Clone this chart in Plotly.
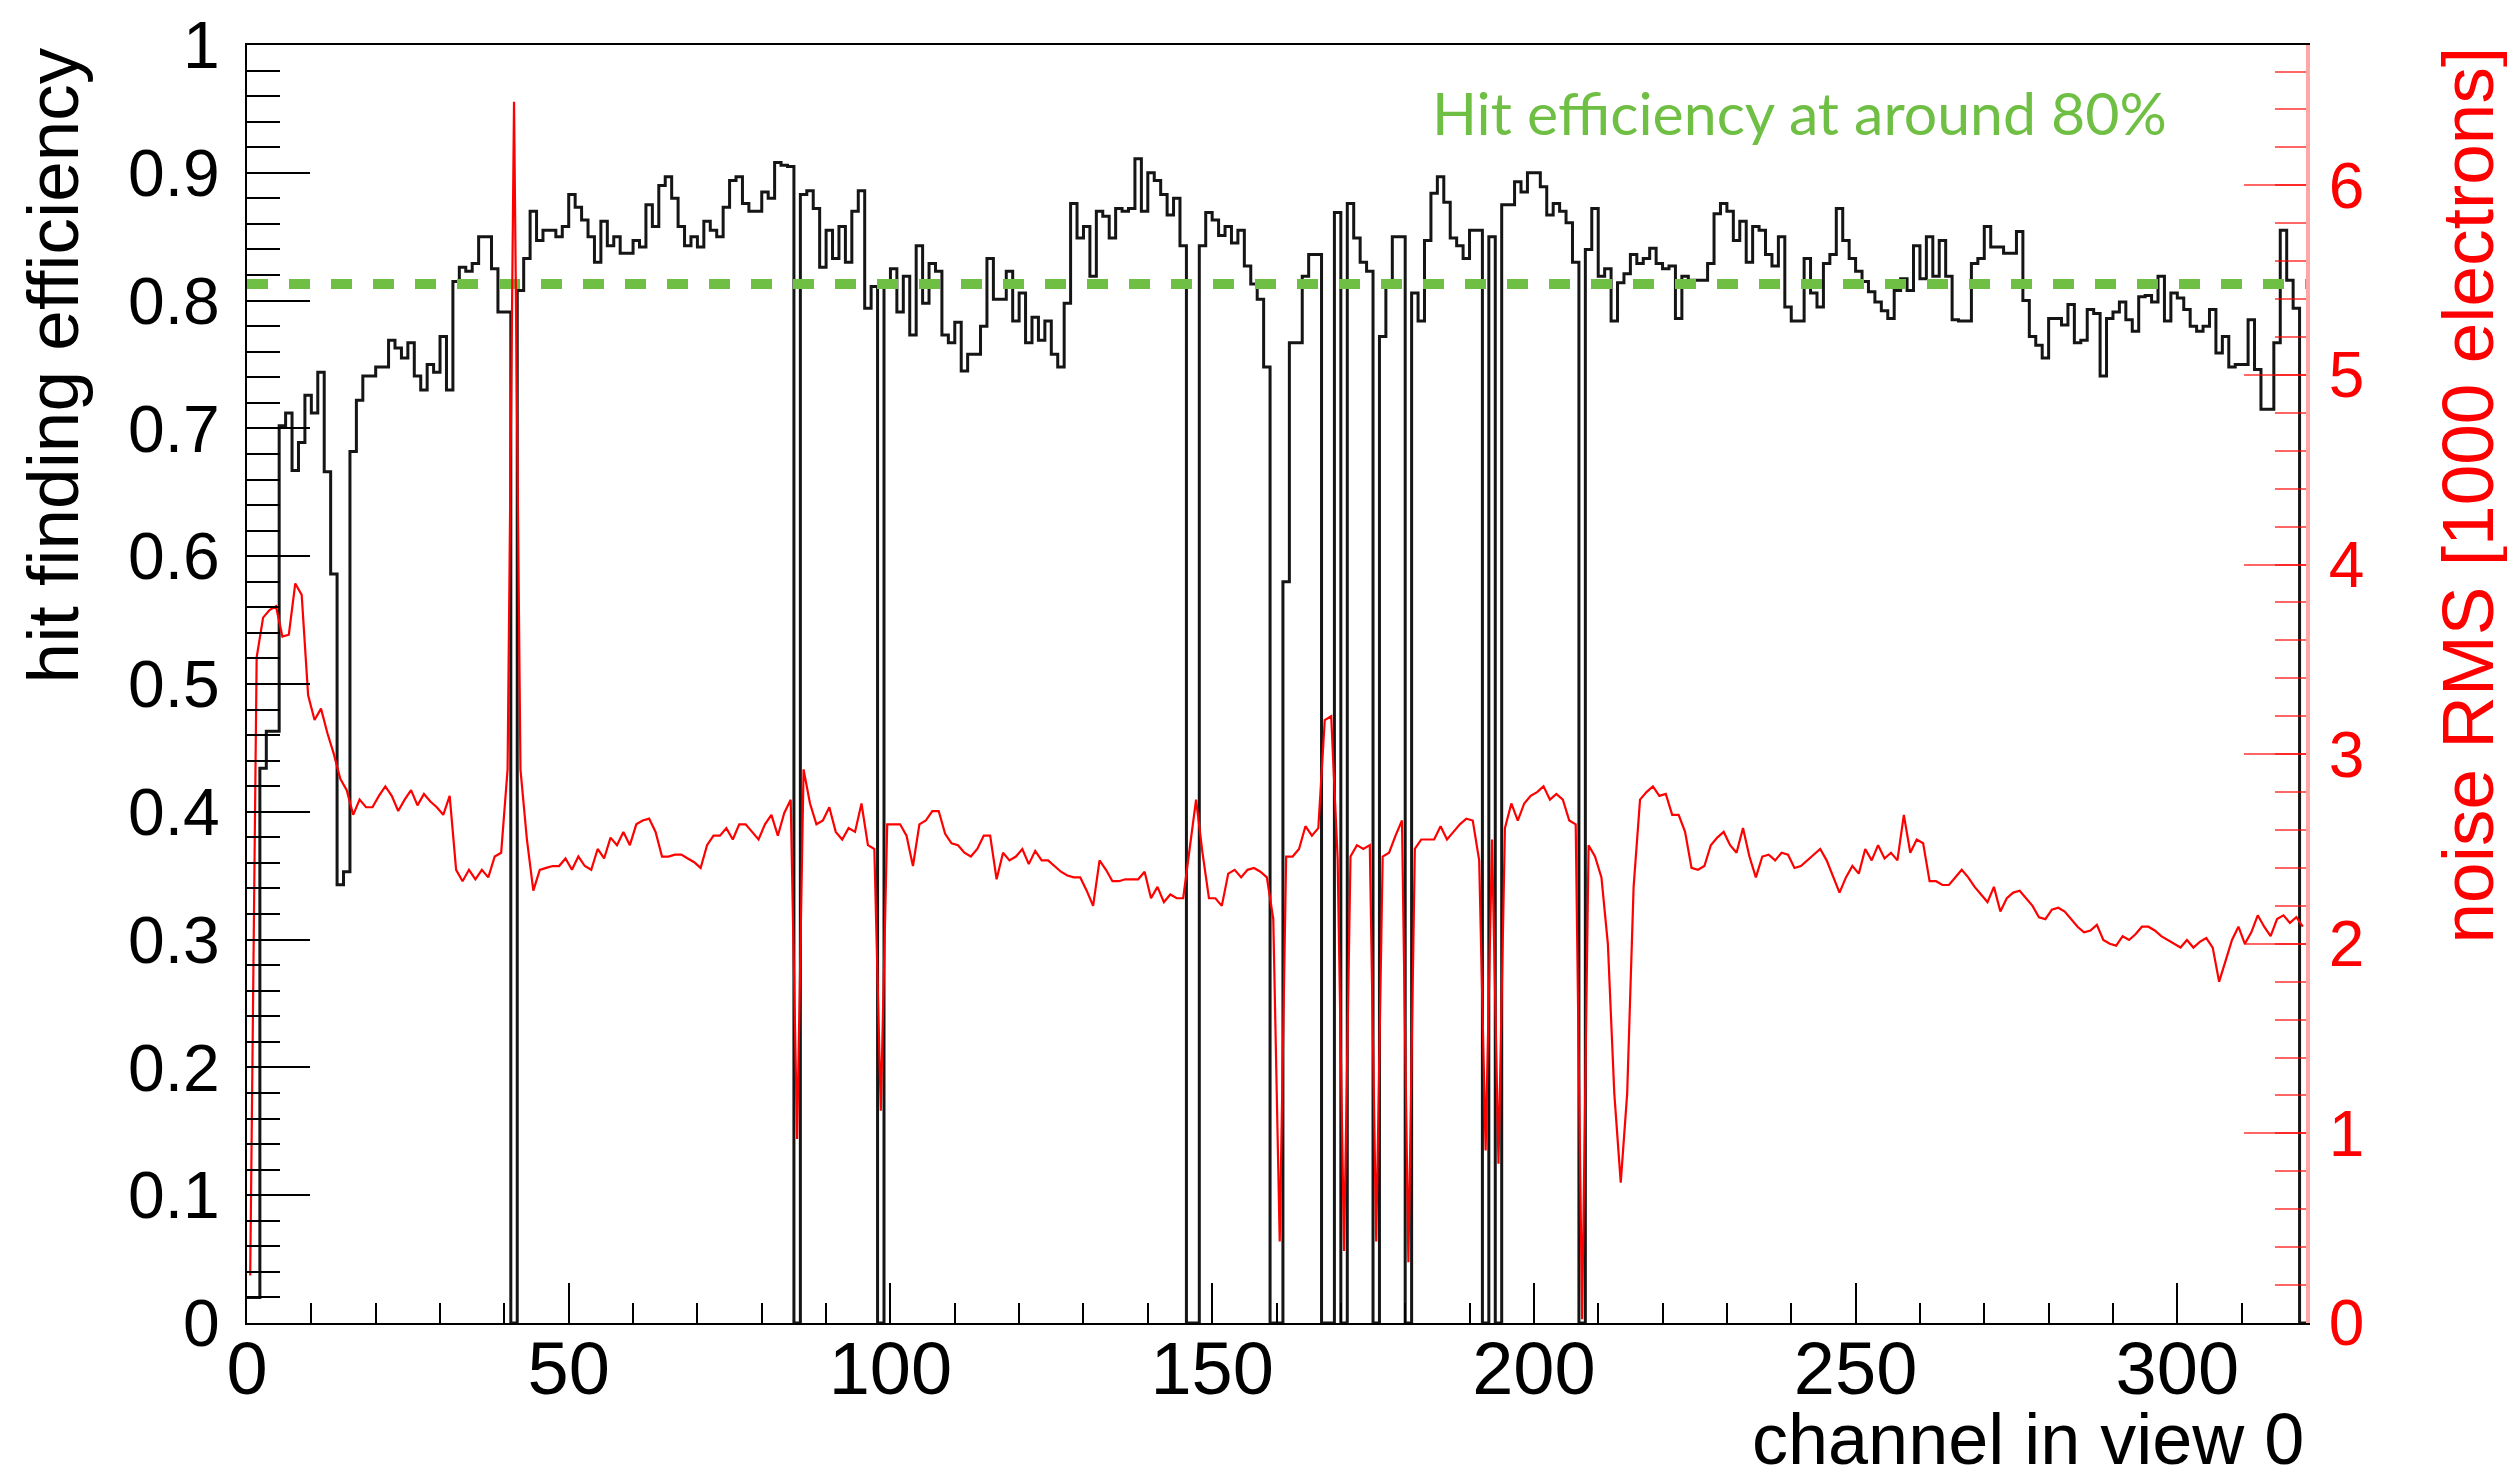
import plotly.graph_objects as go

# ---------------- data ----------------
channels = list(range(320))

efficiency = [
    0.02, 0.02, 0.434, 0.463, 0.463, 0.702, 0.712, 0.667, 0.689, 0.726,
    0.712, 0.744, 0.666, 0.586, 0.343, 0.353, 0.682, 0.722, 0.741, 0.741,
    0.748, 0.748, 0.769, 0.763, 0.755, 0.767, 0.741, 0.730, 0.750, 0.744,
    0.772, 0.730, 0.815, 0.826, 0.823, 0.829, 0.850, 0.850, 0.825, 0.791,
    0.791, 0.0, 0.808, 0.833, 0.870, 0.847, 0.855, 0.855, 0.850, 0.858,
    0.883, 0.873, 0.863, 0.850, 0.830, 0.862, 0.843, 0.850, 0.837, 0.837,
    0.847, 0.842, 0.875, 0.858, 0.890, 0.897, 0.880, 0.858, 0.843, 0.850,
    0.842, 0.862, 0.855, 0.850, 0.873, 0.894, 0.897, 0.876, 0.870, 0.870,
    0.885, 0.880, 0.908, 0.906, 0.905, 0.0, 0.883, 0.886, 0.872, 0.826,
    0.855, 0.833, 0.858, 0.830, 0.870, 0.886, 0.794, 0.811, 0.0, 0.811,
    0.825, 0.791, 0.819, 0.773, 0.843, 0.798, 0.829, 0.823, 0.773, 0.767,
    0.783, 0.745, 0.758, 0.758, 0.780, 0.833, 0.801, 0.801, 0.823, 0.784,
    0.806, 0.767, 0.787, 0.769, 0.784, 0.758, 0.748, 0.798, 0.876, 0.849,
    0.858, 0.819, 0.870, 0.866, 0.849, 0.872, 0.870, 0.872, 0.911, 0.870,
    0.900, 0.894, 0.883, 0.867, 0.880, 0.843, 0.0, 0.0, 0.843, 0.869,
    0.863, 0.851, 0.858, 0.845, 0.855, 0.827, 0.813, 0.801, 0.748, 0.0,
    0.0, 0.58, 0.767, 0.767, 0.819, 0.836, 0.836, 0.0, 0.0, 0.869,
    0.0, 0.876, 0.849, 0.830, 0.823, 0.0, 0.772, 0.812, 0.850, 0.850,
    0.0, 0.806, 0.784, 0.847, 0.884, 0.897, 0.877, 0.849, 0.843, 0.833,
    0.855, 0.855, 0.0, 0.850, 0.0, 0.875, 0.875, 0.893, 0.885, 0.900,
    0.900, 0.889, 0.867, 0.876, 0.870, 0.861, 0.830, 0.0, 0.840, 0.872,
    0.819, 0.825, 0.784, 0.814, 0.821, 0.836, 0.829, 0.833, 0.841, 0.829,
    0.825, 0.827, 0.786, 0.819, 0.816, 0.816, 0.816, 0.829, 0.868, 0.876,
    0.870, 0.847, 0.862, 0.830, 0.858, 0.855, 0.836, 0.827, 0.850, 0.795,
    0.784, 0.784, 0.833, 0.806, 0.795, 0.829, 0.836, 0.872, 0.847, 0.833,
    0.823, 0.815, 0.807, 0.799, 0.792, 0.786, 0.808, 0.817, 0.808, 0.843,
    0.817, 0.850, 0.819, 0.847, 0.819, 0.785, 0.784, 0.784, 0.829, 0.833,
    0.858, 0.842, 0.842, 0.837, 0.837, 0.854, 0.800, 0.772, 0.765, 0.755,
    0.786, 0.786, 0.781, 0.797, 0.767, 0.769, 0.793, 0.790, 0.741, 0.786,
    0.791, 0.799, 0.785, 0.776, 0.803, 0.804, 0.799, 0.819, 0.784, 0.806,
    0.802, 0.793, 0.780, 0.776, 0.780, 0.793, 0.759, 0.772, 0.748, 0.750,
    0.750, 0.785, 0.746, 0.715, 0.715, 0.767, 0.855, 0.816, 0.794, 0.0,
]

noise_rms = [
    0.25, 3.51, 3.72, 3.76, 3.78, 3.62, 3.63, 3.90, 3.84, 3.31,
    3.18, 3.24, 3.11, 3.00, 2.87, 2.81, 2.68, 2.76, 2.72, 2.72,
    2.78, 2.83, 2.78, 2.70, 2.76, 2.81, 2.73, 2.79, 2.75, 2.72,
    2.68, 2.78, 2.39, 2.33, 2.39, 2.34, 2.39, 2.35, 2.46, 2.48,
    2.92, 6.44, 2.92, 2.55, 2.28, 2.39, 2.40, 2.41, 2.41, 2.45,
    2.39, 2.46, 2.41, 2.39, 2.50, 2.45, 2.56, 2.52, 2.59, 2.52,
    2.63, 2.65, 2.66, 2.59, 2.46, 2.46, 2.47, 2.47, 2.45, 2.43,
    2.40, 2.52, 2.57, 2.57, 2.61, 2.55, 2.63, 2.63, 2.59, 2.55,
    2.63, 2.68, 2.57, 2.69, 2.76, 0.97, 2.92, 2.74, 2.63, 2.65,
    2.72, 2.59, 2.55, 2.61, 2.59, 2.74, 2.52, 2.50, 1.12, 2.63,
    2.63, 2.63, 2.57, 2.41, 2.63, 2.65, 2.70, 2.70, 2.58, 2.53,
    2.52, 2.48, 2.46, 2.50, 2.57, 2.57, 2.34, 2.48, 2.44, 2.46,
    2.50, 2.42, 2.49, 2.44, 2.44, 2.41, 2.38, 2.36, 2.35, 2.35,
    2.28, 2.20, 2.44, 2.39, 2.33, 2.33, 2.34, 2.34, 2.34, 2.38,
    2.24, 2.30, 2.22, 2.26, 2.24, 2.24, 2.50, 2.76, 2.48, 2.24,
    2.24, 2.20, 2.37, 2.39, 2.35, 2.39, 2.40, 2.38, 2.35, 2.13,
    0.43, 2.46, 2.46, 2.50, 2.62, 2.57, 2.61, 3.18, 3.20, 2.45,
    0.38, 2.46, 2.52, 2.50, 2.52, 0.43, 2.46, 2.48, 2.57, 2.65,
    0.32, 2.50, 2.55, 2.55, 2.55, 2.62, 2.55, 2.59, 2.63, 2.66,
    2.65, 2.44, 0.91, 2.55, 0.84, 2.61, 2.74, 2.65, 2.74, 2.78,
    2.80, 2.83, 2.76, 2.79, 2.76, 2.65, 2.63, 0.02, 2.52, 2.46,
    2.35, 2.00, 1.21, 0.74, 1.21, 2.30, 2.76, 2.80, 2.83, 2.78,
    2.79, 2.68, 2.68, 2.59, 2.40, 2.39, 2.41, 2.52, 2.56, 2.59,
    2.52, 2.48, 2.61, 2.46, 2.35, 2.46, 2.47, 2.44, 2.48, 2.47,
    2.40, 2.41, 2.44, 2.47, 2.50, 2.44, 2.35, 2.27, 2.35, 2.41,
    2.37, 2.50, 2.44, 2.52, 2.45, 2.48, 2.44, 2.68, 2.48, 2.55,
    2.53, 2.33, 2.33, 2.31, 2.31, 2.35, 2.39, 2.35, 2.30, 2.26,
    2.22, 2.30, 2.17, 2.24, 2.27, 2.28, 2.24, 2.20, 2.14, 2.13,
    2.18, 2.19, 2.17, 2.13, 2.09, 2.06, 2.07, 2.10, 2.02, 2.00,
    1.99, 2.04, 2.02, 2.05, 2.09, 2.09, 2.07, 2.04, 2.02, 2.00,
    1.98, 2.02, 1.98, 2.01, 2.03, 1.98, 1.80, 1.91, 2.02, 2.09,
    2.00, 2.06, 2.15, 2.09, 2.04, 2.13, 2.15, 2.11, 2.14, 2.09,
]

efficiency_reference = 0.813
eff_tick_values = [0.0, 0.1, 0.2, 0.3, 0.4, 0.5, 0.6, 0.7, 0.8, 0.9, 1.0]
eff_tick_labels = ["0", "0.1", "0.2", "0.3", "0.4", "0.5", "0.6", "0.7", "0.8", "0.9", "1"]
channel_tick_values = [0, 50, 100, 150, 200, 250, 300]
noise_tick_values = [0, 1, 2, 3, 4, 5, 6]

# ---------------- figure ----------------
FONT = "Liberation Sans, Arial, Helvetica, sans-serif"
RED = "#ff0000"
GREEN = "#6fbf44"

edges = channels + [len(channels)]
hist_y = efficiency + [efficiency[-1]]
centres = [c + 0.5 for c in channels]

fig = go.Figure()
fig.add_trace(go.Scatter(
    x=edges, y=hist_y, mode="lines",
    line=dict(shape="hv", color="#151515", width=3),
    yaxis="y", hoverinfo="skip"))
fig.add_trace(go.Scatter(
    x=centres, y=noise_rms, mode="lines",
    line=dict(color=RED, width=2.2),
    yaxis="y2", hoverinfo="skip"))
fig.add_trace(go.Scatter(
    x=[0, len(channels)], y=[efficiency_reference, efficiency_reference],
    mode="lines", line=dict(color=GREEN, width=10, dash="21px,21px"),
    yaxis="y", hoverinfo="skip"))

# page body has an 8px margin -> figure is 8px smaller and margins compensate
fig.update_layout(
    width=2507, height=1466,
    margin=dict(l=239, r=209, t=37, b=151, autoexpand=False),
    paper_bgcolor="white", plot_bgcolor="white",
    showlegend=False,
    font=dict(family=FONT, size=64, color="black"),
    xaxis=dict(
        range=[0, 320], tickvals=channel_tick_values,
        ticks="inside", ticklen=40, tickwidth=2, tickcolor="black",
        showline=True, linecolor="black", linewidth=2, mirror=True,
        showgrid=False, zeroline=False, automargin=False,
        tickfont=dict(family=FONT, size=74, color="black"),
        minor=dict(dtick=10, tick0=0, ticks="inside", ticklen=20,
                   tickwidth=2, tickcolor="black", showgrid=False),
    ),
    yaxis=dict(
        range=[0, 1], tickvals=eff_tick_values, ticktext=eff_tick_labels,
        ticks="inside", ticklen=63, tickwidth=2, tickcolor="black",
        showline=True, linecolor="black", linewidth=2,
        showgrid=False, zeroline=False, automargin=False,
        tickfont=dict(family=FONT, size=66, color="black"),
        ticklabelstandoff=12,
        minor=dict(dtick=0.02, tick0=0, ticks="inside", ticklen=33,
                   tickwidth=2, tickcolor="black", showgrid=False),
    ),
    yaxis2=dict(
        overlaying="y", side="right", anchor="x",
        range=[0, 6.74], tickvals=noise_tick_values,
        ticks="inside", ticklen=62, tickwidth=2, tickcolor="rgba(255,0,0,0.6)",
        showline=True, linecolor="rgba(255,0,0,0.35)", linewidth=4,
        showgrid=False, zeroline=False, automargin=False,
        tickfont=dict(family=FONT, size=64, color=RED),
        ticklabelstandoff=6,
        minor=dict(dtick=0.2, tick0=0, ticks="inside", ticklen=31,
                   tickwidth=2, tickcolor="rgba(255,0,0,0.6)", showgrid=False),
    ),
    annotations=[
        dict(text="hit finding efficiency", xref="paper", yref="paper",
             x=-0.0945, y=1.0, xanchor="center", yanchor="top",
             textangle=-90, showarrow=False,
             font=dict(family=FONT, size=73, color="black")),
        dict(text="noise RMS [1000 electrons]", xref="paper", yref="paper",
             x=1.0782, y=1.0, xanchor="center", yanchor="top",
             textangle=-90, showarrow=False,
             font=dict(family=FONT, size=73, color=RED)),
        dict(text="channel in view 0", xref="paper", yref="paper",
             x=1.0, y=-0.0908, xanchor="right", yanchor="middle",
             showarrow=False,
             font=dict(family=FONT, size=72, color="black")),
        dict(text="Hit efficiency at around 80%", xref="paper", yref="paper",
             x=0.754, y=0.947, xanchor="center", yanchor="middle",
             showarrow=False,
             font=dict(family="Lato, Open Sans, sans-serif", size=59, color=GREEN)),
    ],
)

# pull the x tick labels closer to the axis (as in the reference)
try:
    fig.update_xaxes(ticklabelstandoff=-20)
except Exception:
    fig.update_xaxes(ticklabelstandoff=0)

fig.write_html("out.html")
